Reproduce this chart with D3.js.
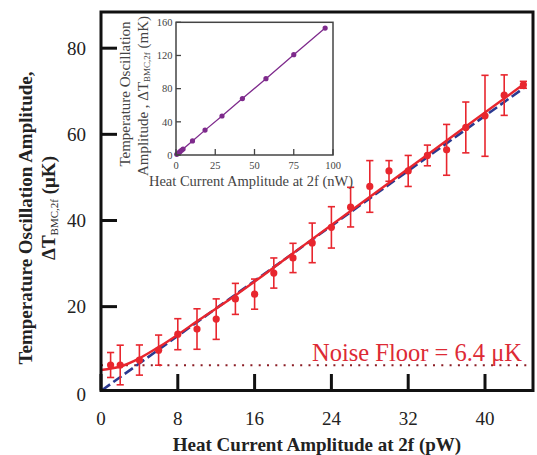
<!DOCTYPE html>
<html><head><meta charset="utf-8">
<script src="https://cdn.jsdelivr.net/npm/d3@7"></script>
<style>body{margin:0;background:#fff}svg{display:block}</style>
</head><body>
<svg id="c" width="537" height="455"></svg>
<script>
// ---- main data ----
const heatPW = [1,2,4,6,8,10,12,14,16,18,20,22,24,26,28,30,32,34,36,38,40,42,44];
const dTuK   = [6.45,6.45,7.6,9.9,13.6,14.8,17.1,21.8,22.9,27.8,31.3,34.8,38.4,43.1,47.9,51.5,51.5,55.1,56.4,61.6,64.3,69.1,71.5];
const errUK  = [2.9,4.6,3.5,3.5,3.6,4.7,4.7,3.6,3.5,3.5,3.4,4.6,4.8,4.6,6.0,2.4,3.6,2.4,5.9,5.9,9.4,4.7,0.8];
const redFitX = [0,2,4,6,8,10,14,20,26,32,38,44.2];
const redFitY = [5.3,6.1,8.0,10.6,13.5,16.6,22.6,32.4,42.2,52.0,61.8,71.9];
const blueFitX = [0.1,44.2];
const blueFitY = [0.6,71.0];
const noiseFloor = 6.4;
const xTicks = [0,8,16,24,32,40];
const yTicks = [0,20,40,60,80];
// ---- inset data ----
const insetX = [0.5,1.5,2.5,3.5,4.5,10.5,18.5,29.3,42.3,57.3,75,95];
const insetY = [0.8,2.4,4.0,5.6,7.2,17,30,47,68,92,121,153];
const insetXTicks = [0,25,50,75,100];
const insetYTicks = [0,40,80,120,160];

const svg = d3.select("#c");
const serif = "'Liberation Serif','Times New Roman',serif";
const RED = "#e8262e", BLUE = "#2b3990";

const x = d3.scaleLinear().domain([0,45]).range([101,533]);
const y = d3.scaleLinear().domain([0.53,88.4]).range([390.5,12]);

// noise floor
svg.append("line").attr("x1",x(0)).attr("x2",x(45)).attr("y1",y(noiseFloor)).attr("y2",y(noiseFloor))
  .attr("stroke","#8b1c24").attr("stroke-width",2).attr("stroke-dasharray","2,6.3");
svg.append("text").attr("x",522).attr("y",361).attr("text-anchor","end")
  .attr("font-family",serif).attr("font-size",24.5).attr("fill","#dd2a35").text("Noise Floor = 6.4 μK");

// fits
const line = d3.line().x(d=>x(d[0])).y(d=>y(d[1]));
svg.append("path").datum(blueFitX.map((v,i)=>[v,blueFitY[i]])).attr("d",line)
  .attr("fill","none").attr("stroke",BLUE).attr("stroke-width",2.6).attr("stroke-dasharray","10,4");
svg.append("path").datum(redFitX.map((v,i)=>[v,redFitY[i]])).attr("d",line.curve(d3.curveMonotoneX))
  .attr("fill","none").attr("stroke",RED).attr("stroke-width",2.4);

// error bars + points
const g = svg.append("g");
heatPW.forEach((hx,i)=>{
  const cx=x(hx), t=y(dTuK[i]+errUK[i]), b=y(dTuK[i]-errUK[i]);
  g.append("line").attr("x1",cx).attr("x2",cx).attr("y1",t).attr("y2",b).attr("stroke",RED).attr("stroke-width",1.6);
  [t,b].forEach(yy=>g.append("line").attr("x1",cx-3.6).attr("x2",cx+3.6).attr("y1",yy).attr("y2",yy).attr("stroke",RED).attr("stroke-width",1.6));
  g.append("circle").attr("cx",cx).attr("cy",y(dTuK[i])).attr("r",3.6).attr("fill",RED);
});

// frame
svg.append("rect").attr("x",101).attr("y",12).attr("width",432).attr("height",378.5)
  .attr("fill","none").attr("stroke","#111").attr("stroke-width",3);
// ticks
xTicks.forEach(t=>{
  svg.append("line").attr("x1",x(t)).attr("x2",x(t)).attr("y1",390.5).attr("y2",374).attr("stroke","#111").attr("stroke-width",3);
  svg.append("text").attr("x",x(t)).attr("y",425).attr("text-anchor","middle").attr("font-family",serif).attr("font-size",19).attr("fill","#222").text(t);
});
yTicks.forEach(t=>{
  if (t>0) svg.append("line").attr("x1",101).attr("x2",117).attr("y1",y(t)).attr("y2",y(t)).attr("stroke","#111").attr("stroke-width",3);
  svg.append("text").attr("x",86).attr("y",y(t)+(t===0?2:0)).attr("dy","0.35em").attr("text-anchor","end").attr("font-family",serif).attr("font-size",19).attr("fill","#222").text(t);
});
// axis titles
svg.append("text").attr("x",317).attr("y",451).attr("text-anchor","middle").attr("font-family",serif)
  .attr("font-weight","bold").attr("font-size",19).attr("fill","#222").text("Heat Current Amplitude at 2f (pW)");
svg.append("text").attr("transform","translate(32,218) rotate(-90)").attr("text-anchor","middle")
  .attr("font-family",serif).attr("font-weight","bold").attr("font-size",19).attr("fill","#222").text("Temperature Oscillation Amplitude,");
const yl2 = svg.append("text").attr("transform","translate(55,208) rotate(-90)").attr("text-anchor","middle")
  .attr("font-family",serif).attr("font-weight","bold").attr("font-size",19).attr("fill","#222");
yl2.append("tspan").text("ΔT");
yl2.append("tspan").attr("font-size",11).attr("font-weight","normal").attr("dy",3).text("BMC,2f");
yl2.append("tspan").attr("dy",-3).text(" (μK)");

// ---- inset ----
const ix = d3.scaleLinear().domain([0,100]).range([176,333]);
const iy = d3.scaleLinear().domain([0,160]).range([155,22.3]);
const PURPLE = "#7e2a8c", IG = "#444";
svg.append("path").datum(insetX.map((v,i)=>[v,insetY[i]]))
  .attr("d",d3.line().x(d=>ix(d[0])).y(d=>iy(d[1])))
  .attr("fill","none").attr("stroke",PURPLE).attr("stroke-width",1.3);
insetX.forEach((v,i)=>svg.append("circle").attr("cx",ix(v)).attr("cy",iy(insetY[i])).attr("r",2.6).attr("fill",PURPLE));
svg.append("rect").attr("x",176).attr("y",22.3).attr("width",157).attr("height",132.7)
  .attr("fill","none").attr("stroke",IG).attr("stroke-width",1.5);
insetXTicks.forEach(t=>{
  svg.append("line").attr("x1",ix(t)).attr("x2",ix(t)).attr("y1",155).attr("y2",149).attr("stroke",IG).attr("stroke-width",1.3);
  svg.append("text").attr("x",ix(t)).attr("y",169).attr("text-anchor","middle").attr("font-family",serif).attr("font-size",10.5).attr("fill",IG).text(t);
});
insetYTicks.forEach(t=>{
  svg.append("line").attr("x1",176).attr("x2",181).attr("y1",iy(t)).attr("y2",iy(t)).attr("stroke",IG).attr("stroke-width",1.3);
  svg.append("text").attr("x",172.5).attr("y",iy(t)).attr("dy","0.35em").attr("text-anchor","end").attr("font-family",serif).attr("font-size",10.5).attr("fill",IG).text(t);
});
svg.append("text").attr("x",251).attr("y",186).attr("text-anchor","middle").attr("font-family",serif)
  .attr("font-size",14.5).attr("fill",IG).text("Heat Current Amplitude at 2f (nW)");
svg.append("text").attr("transform","translate(130,94) rotate(-90)").attr("text-anchor","middle")
  .attr("font-family",serif).attr("font-size",15).attr("fill",IG).text("Temperature Oscillation");
const il2 = svg.append("text").attr("transform","translate(147.5,96) rotate(-90)").attr("text-anchor","middle")
  .attr("font-family",serif).attr("font-size",15).attr("fill",IG);
il2.append("tspan").text("Amplitude , ΔT");
il2.append("tspan").attr("font-size",9).attr("dy",2).text("BMC,2f");
il2.append("tspan").attr("dy",-2).text(" (mK)");
</script>
</body></html>
